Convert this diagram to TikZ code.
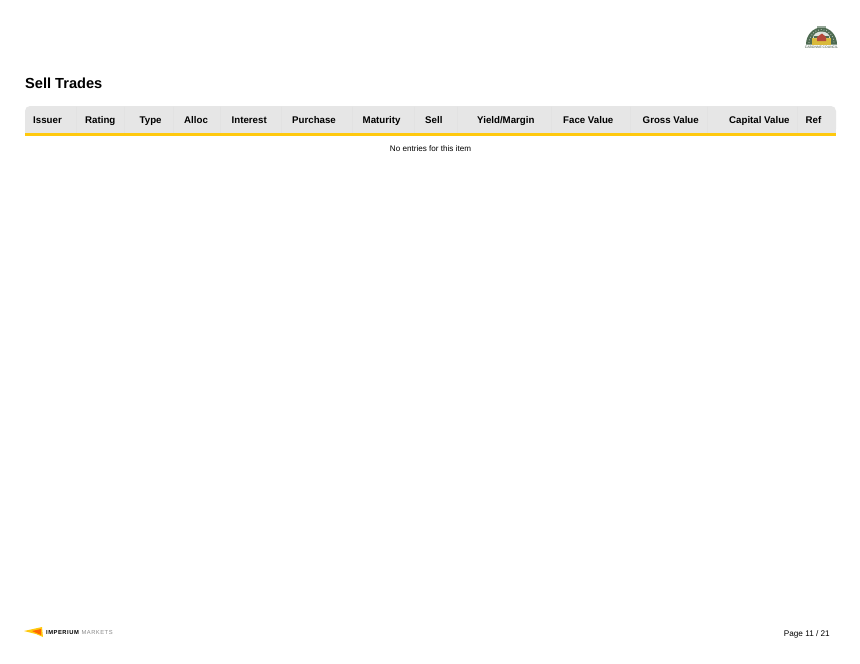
\documentclass[tikz,border=0pt]{standalone}
\usepackage{fontspec}
\setmainfont{Liberation Sans}
\definecolor{headgrey}{HTML}{E6E6E6}
\definecolor{cellline}{HTML}{E2E2E2}
\definecolor{ruleyellow}{HTML}{FFC90E}
\definecolor{crestgreen}{HTML}{4E6B52}
\definecolor{crestgold}{HTML}{D9B93A}
\definecolor{crestred}{HTML}{B5483A}
\definecolor{logogrey}{HTML}{8A8A8A}
\tikzset{
  headcell/.style={anchor=base west, inner sep=0pt, font=\fontsize{9.7}{12}\selectfont\bfseries},
  bodytext/.style={inner sep=0pt, font=\fontsize{8.1}{10}\selectfont},
}
\begin{document}
\begin{tikzpicture}[x=1pt, y=-1pt, >=stealth]
  \useasboundingbox (0,0) rectangle (860,664);
  \fill[white] (0,0) rectangle (860,664);
  % title
  \node[anchor=base west, inner sep=0pt, font=\fontsize{14.6}{18}\selectfont\bfseries] (title) at (25,88) {Sell Trades};
  % table head
  \fill[headgrey, rounded corners=5pt] (25,106) -- (836,106) -- (836,134) -- (25,134) -- cycle;
  \fill[headgrey] (25,125) rectangle (836,134);
  \foreach \sepx in {76,124,173,220,281,352,414,457,551,630,707,797}
    \draw[cellline, line width=0.4pt] (\sepx,106.5) -- (\sepx,133);
  \fill[ruleyellow] (25,132.8) rectangle (836,136);
  % column names
  \foreach \colname/\colx in {Issuer/33,Rating/85,Type/139.5,Alloc/184,Interest/231.5,Purchase/292,Maturity/362.5,Sell/425,Yield\slash Margin/477,Face Value/563,Gross Value/642.5,Capital Value/729,Ref/805.5}
    \node[headcell] (head\colx) at (\colx,123) {\colname};
  \node[bodytext, anchor=base] (empty) at (430.5,151.5) {No entries for this item};
  % council crest
  \fill[crestgreen] (806,44.5) arc[start angle=180, end angle=360, x radius=15.5, y radius=17] -- cycle;
  \fill[crestgreen!60] (817,28) rectangle (826,25.5);
  \draw[white!70!crestgreen, line width=0.8pt, dotted] (809,43) arc[start angle=180, end angle=360, x radius=12.5, y radius=13.5];
  \fill[crestgold] (812,44.5) rectangle (831,38);
  \fill[white!80!crestgreen] (813,38) arc[start angle=180, end angle=360, x radius=8.5, y radius=6.5] -- cycle;
  \fill[crestgreen] (814,38) rectangle (829,36);
  \fill[crestred] (817,37) -- (822,33.5) -- (826,37) -- (826,41) -- (817,41) -- cycle;
  \node[inner sep=0pt, font=\fontsize{3.4}{4}\selectfont, text=crestgreen!70!black] (crest) at (821.5,47.3) {CABONNE COUNCIL};
  % footer logo
  \fill[ruleyellow] (24,631) -- (42,627) -- (43,637) -- (36,634) -- cycle;
  \fill[orange!80!red] (32,631) -- (41,629) -- (41,635) -- cycle;
  \node[anchor=base west, inner sep=0pt, font=\fontsize{5.8}{7}\selectfont\addfontfeature{LetterSpace=9}] (logotext) at (46,634) {\textbf{IMPERIUM} \textcolor{logogrey}{MARKETS}};
  \node[anchor=base east, inner sep=0pt, font=\fontsize{8.2}{10}\selectfont] (page) at (830,636) {Page 11 / 21};
\end{tikzpicture}
\end{document}
